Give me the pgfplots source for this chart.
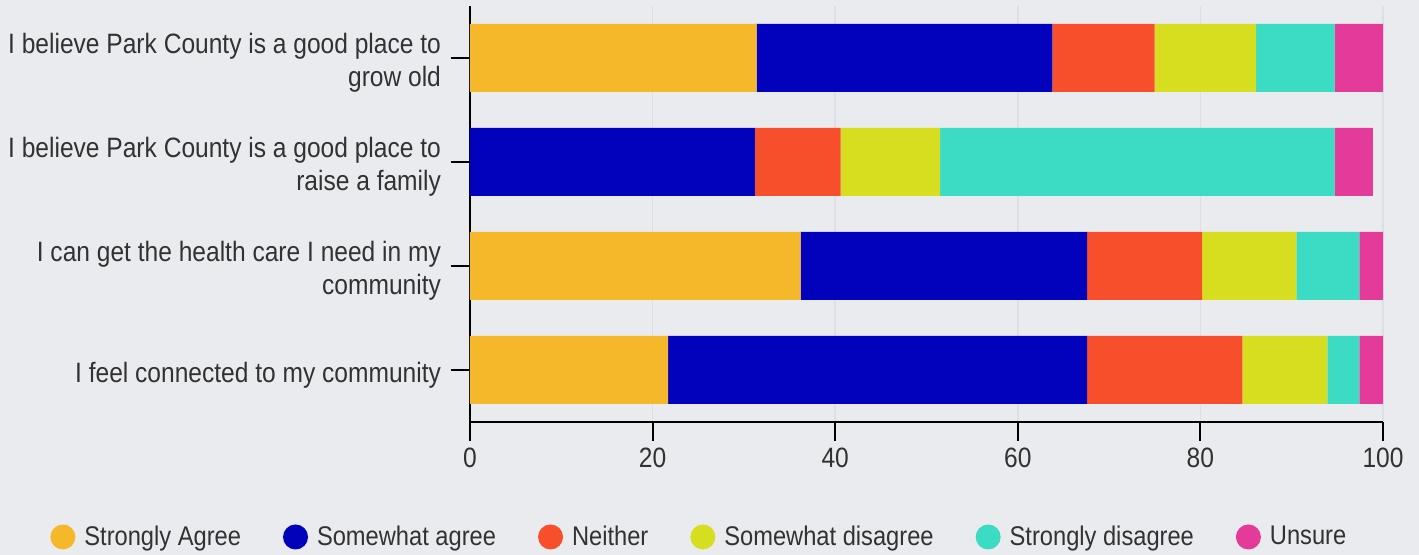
\documentclass[border=0pt]{standalone}
\usepackage{pgfplots}
\pgfplotsset{compat=1.18}
\usepackage{fontspec}
\setmainfont{Liberation Sans}[FakeStretch=0.877]
\usetikzlibrary{backgrounds}
\definecolor{bg}{RGB}{234,235,239}
\definecolor{gridc}{RGB}{222,223,228}
\definecolor{txt}{RGB}{50,50,50}
\definecolor{cSA}{RGB}{246,184,43}
\definecolor{cA}{RGB}{2,2,189}
\definecolor{cN}{RGB}{247,79,43}
\definecolor{cD}{RGB}{214,222,31}
\definecolor{cSD}{RGB}{60,219,195}
\definecolor{cU}{RGB}{228,58,154}
\begin{document}
\begin{tikzpicture}
\begin{axis}[
  name=ax,
  scale only axis,
  width=456.5pt, height=208pt,
  xbar stacked, bar width=34pt,
  xmin=0, xmax=100, ymin=-0.5, ymax=3.5,
  xtick={0,20,40,60,80,100}, ytick={0,1,2,3},
  yticklabels={{I feel connected to my community},
               {I can get the health care I need in my\\community},
               {I believe Park County is a good place to\\raise a family},
               {I believe Park County is a good place to\\grow old}},
  yticklabel style={align=right, xshift=-1.5pt, yshift=-2.4pt},
  axis lines*=left,
  axis line style={line width=1pt, black},
  major tick style={line width=1pt, black},
  major tick length=9.5pt, tick align=outside,
  xmajorgrids, grid style={color=gridc, line width=0.8pt},
  /pgf/number format/assume math mode=true,
  tick label style={font=\fontsize{14}{16.3}\selectfont, text=txt},
  legend image code/.code={\fill[#1] (0pt,0pt) circle (6.25pt);},
  legend style={draw=none, fill=none, inner sep=0pt,
    legend columns=6, at={(-0.46,-0.2764)}, anchor=west,
    font=\fontsize{13.5}{15}\selectfont, text=txt,
    /tikz/every odd column/.append style={column sep=2.5pt},
    /tikz/every even column/.append style={column sep=19pt}},
  legend cell align=left,
]
\addplot[fill=cSA, draw=none] coordinates {(21.7,0) (36.2,1) (0,2) (31.4,3)};
\addplot[fill=cA, draw=none] coordinates {(45.9,0) (31.4,1) (31.2,2) (32.4,3)};
\addplot[fill=cN, draw=none] coordinates {(17.0,0) (12.6,1) (9.4,2) (11.2,3)};
\addplot[fill=cD, draw=none] coordinates {(9.3,0) (10.3,1) (10.9,2) (11.1,3)};
\addplot[fill=cSD, draw=none] coordinates {(3.5,0) (6.9,1) (43.2,2) (8.6,3)};
\addplot[fill=cU, draw=none] coordinates {(2.6,0) (2.6,1) (4.2,2) (5.3,3)};
\legend{Strongly Agree, Somewhat agree, Neither, Somewhat disagree, Strongly disagree, Unsure}
\end{axis}
\pgfresetboundingbox
\begin{scope}[on background layer]
\fill[bg] (-235pt,-66.5pt) rectangle (474.5pt,211pt);
\end{scope}
\end{tikzpicture}
\end{document}
